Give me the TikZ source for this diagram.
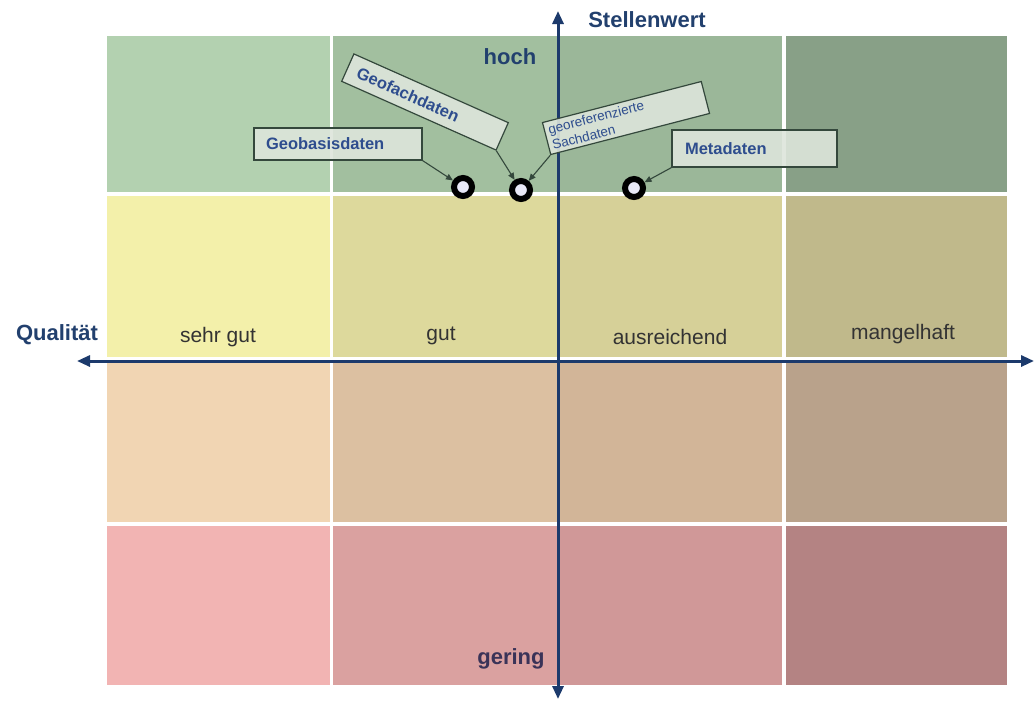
\documentclass[tikz,border=0pt]{standalone}
\usepackage{fontspec}
\setmainfont{Liberation Sans}
\usetikzlibrary{arrows.meta}
\definecolor{gA}{HTML}{B3D1B0}\definecolor{gB}{HTML}{A2BF9F}\definecolor{gC}{HTML}{9BB799}\definecolor{gD}{HTML}{88A087}
\definecolor{yA}{HTML}{F3F0AA}\definecolor{yB}{HTML}{DDD99C}\definecolor{yC}{HTML}{D6D098}\definecolor{yD}{HTML}{C0B98B}
\definecolor{tA}{HTML}{F1D5B3}\definecolor{tB}{HTML}{DCC0A1}\definecolor{tC}{HTML}{D2B598}\definecolor{tD}{HTML}{B9A28B}
\definecolor{pA}{HTML}{F2B4B3}\definecolor{pB}{HTML}{DAA1A0}\definecolor{pC}{HTML}{D09898}\definecolor{pD}{HTML}{B48383}
\definecolor{navy}{HTML}{1C3A6C}
\definecolor{axlab}{HTML}{22406E}
\definecolor{gercol}{HTML}{3A3358}
\definecolor{catgray}{HTML}{333333}
\definecolor{tagfill}{HTML}{DDE5DB}
\definecolor{tagborder}{HTML}{34483C}
\definecolor{tagtext}{HTML}{2E4D8E}
\definecolor{ringfill}{HTML}{E8E8F6}
\begin{document}
\begin{tikzpicture}[x=1pt,y=-1pt,
  axis/.style={line width=3pt, draw=navy, {Triangle[length=13pt,width=11pt]}-{Triangle[length=13pt,width=11pt]}},
  axlabel/.style={font=\bfseries\fontsize{22}{26}\selectfont, text=axlab, inner sep=0pt},
  catlabel/.style={font=\fontsize{21}{25}\selectfont, text=catgray, inner sep=0pt},
  tagbox/.style={draw=tagborder, fill=tagfill, fill opacity=0.9, text opacity=1, line width=1.2pt, text=tagtext, align=left, inner ysep=0pt},
  tagfont/.style={font=\bfseries\fontsize{16.5}{19}\selectfont},
  ring/.style={circle, draw=black, line width=6pt, fill=ringfill, minimum size=18pt, inner sep=0pt, outer sep=3pt},
  pointer/.style={draw=tagborder, line width=1.1pt, -{Triangle[length=7pt,width=6pt]}}
]
\useasboundingbox (0,0) rectangle (1035,702);
\fill[white] (0,0) rectangle (1035,702);
% grid cells
\fill[gA] (107,36) rectangle (330,192);
\fill[gB] (333,36) rectangle (557,192);
\fill[gC] (559,36) rectangle (782,192);
\fill[gD] (786,36) rectangle (1007,192);
\fill[yA] (107,196) rectangle (330,357);
\fill[yB] (333,196) rectangle (557,357);
\fill[yC] (559,196) rectangle (782,357);
\fill[yD] (786,196) rectangle (1007,357);
\fill[tA] (107,363) rectangle (330,522);
\fill[tB] (333,363) rectangle (557,522);
\fill[tC] (559,363) rectangle (782,522);
\fill[tD] (786,363) rectangle (1007,522);
\fill[pA] (107,526) rectangle (330,685);
\fill[pB] (333,526) rectangle (557,685);
\fill[pC] (559,526) rectangle (782,685);
\fill[pD] (786,526) rectangle (1007,685);
% axes
\coordinate (ytop) at (558,11);
\coordinate (ybot) at (558,699);
\coordinate (xleft) at (77,361);
\coordinate (xright) at (1034,361);
\draw[axis] (ybot) -- (ytop);
\draw[axis] (xleft) -- (xright);
% axis labels
\node[axlabel] (stellen) at (647,20) {Stellenwert};
\node[axlabel] (hoch) at (510,57) {hoch};
\node[axlabel] (qual) at (57,335) {Qualität};
\node[axlabel, text=gercol] (gering) at (511,659) {gering};
% category labels
\node[catlabel] (sehrgut) at (218,337) {sehr gut};
\node[catlabel] (gut) at (441,336) {gut};
\node[catlabel] (ausr) at (670,337) {ausreichend};
\node[catlabel] (mangel) at (903,334) {mangelhaft};
% rings
\node[ring] (r1) at (463,187) {};
\node[ring] (r2) at (521,190) {};
\node[ring] (r3) at (634,188) {};
% tags
\node[tagbox, tagfont, minimum height=32pt, text width=144pt, inner xsep=12pt] (basis) at (338,144) {Geobasisdaten};
\node[tagbox, tagfont, minimum height=30pt, text width=147pt, inner xsep=11pt, rotate=-24] (fach) at (425,102) {Geofachdaten};
\node[tagbox, font=\fontsize{13.5}{16}\selectfont, minimum height=33pt, text width=156pt, inner xsep=4pt, rotate=14.5] (geor) at (626,118) {georeferenzierte\\Sachdaten};
\node[tagbox, tagfont, minimum height=37pt, text width=139pt, inner xsep=13pt] (meta) at (754.5,148.5) {Metadaten};
% pointers
\draw[pointer] (basis.south east) -- (r1);
\draw[pointer] (fach.south east) -- (r2);
\draw[pointer] (geor.south west) -- (r2);
\draw[pointer] (meta.south west) -- (r3);
\end{tikzpicture}
\end{document}
